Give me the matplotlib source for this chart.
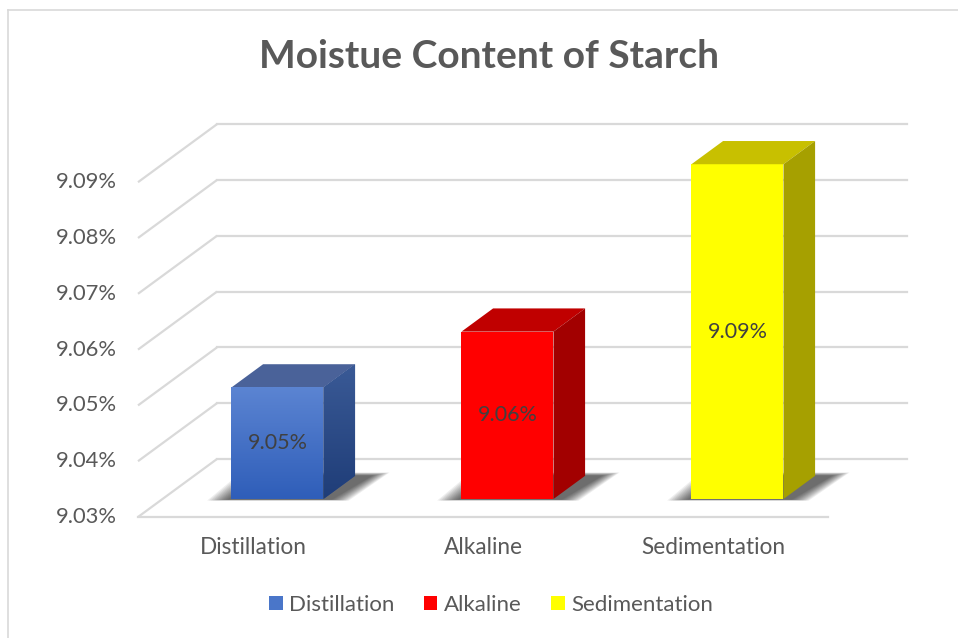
import numpy as np
import matplotlib
matplotlib.use("Agg")
import matplotlib.pyplot as plt
from matplotlib.patches import Polygon, Patch
from matplotlib.colors import LinearSegmentedColormap

# data
categories = ["Distillation", "Alkaline", "Sedimentation"]
values = [9.05, 9.06, 9.09]
ticks = [9.03, 9.04, 9.05, 9.06, 9.07, 9.08, 9.09]
title = "Moistue Content of Starch"

front_colors = ["#4a76c9", "#ff0000", "#ffff00"]
top_colors = ["#4a6299", "#c00000", "#c8c000"]
side_colors = ["#2d4c8a", "#a20000", "#a6a000"]

W, H = 958, 638
FLOOR = ticks[0]
PX_X = 230.0      # pixels per category
PX_Y = 5580.0     # pixels per value unit
X0, Y0 = 138, 517  # pixel position of (0, FLOOR)

DX = 79 / PX_X    # depth offset of the back wall
DY = 58 / PX_Y
F1, F2 = 0.31, 0.71  # bar front / back depth fraction
BW = 0.4

plt.rcParams["font.family"] = ["Lato", "DejaVu Sans"]
fig = plt.figure(figsize=(W / 100, H / 100), dpi=100)
ax = fig.add_axes([0, 0, 1, 1])
ax.set_xlim(-X0 / PX_X, (W - X0) / PX_X)
ax.set_ylim(FLOOR - (H - Y0) / PX_Y, FLOOR + Y0 / PX_Y)
ax.axis("off")

grid_c = "#d9d9d9"
n = len(categories)
for t in ticks:
    ax.plot([0, DX], [t, t + DY], color=grid_c, lw=1.6, zorder=1, solid_capstyle="butt")
    ax.plot([DX, n + DX], [t + DY, t + DY], color=grid_c, lw=1.6, zorder=1)
    ax.text(-0.09, t, f"{t:.2f}%", ha="right", va="center", fontsize=15.8, color="#595959")
ax.plot([0, n], [FLOOR, FLOOR], color=grid_c, lw=1.6, zorder=1)

# border of chart area
fig.add_artist(plt.Line2D([7.5 / W, 1], [1 - 9.5 / H] * 2, color="#d9d9d9", lw=1.2))
fig.add_artist(plt.Line2D([7.5 / W] * 2, [0, 1 - 9.5 / H], color="#d9d9d9", lw=1.2))

blue_front = LinearSegmentedColormap.from_list("bf", ["#2f5eb9", "#5b84d2"])
blue_side = LinearSegmentedColormap.from_list("bs", ["#1f3d78", "#3a5a96"])

for i, (cat, v) in enumerate(zip(categories, values)):
    c = i + 0.5
    xl, xr = c - BW / 2, c + BW / 2
    b1, b2 = FLOOR + F1 * DY, FLOOR + F2 * DY

    # soft shadow on the floor
    for k in range(12):
        g = 0.16 * (1 - k / 12.0)
        dy = 0.0006 * (1 - k / 12.0)
        sh = [(xl + F1 * DX - 0.01 - g * 0.6, b1 - 0.0001 - dy * 0.3),
              (xr + F1 * DX + 0.03 + g * 0.5, b1 - 0.0001 - dy * 0.3),
              (xr + F2 * DX + 0.07 + g * 0.5, b2 + dy),
              (xl + F2 * DX - g * 0.6, b2 + dy)]
        ax.add_patch(Polygon(sh, closed=True, facecolor="#000000", alpha=0.065,
                             edgecolor="none", zorder=2))

    bars = ax.bar(c + F1 * DX, v - FLOOR, bottom=b1, width=BW,
                  color=front_colors[i], edgecolor="none", zorder=4)
    top = Polygon([(xl + F1 * DX, v + F1 * DY), (xr + F1 * DX, v + F1 * DY),
                   (xr + F2 * DX, v + F2 * DY), (xl + F2 * DX, v + F2 * DY)],
                  closed=True, facecolor=top_colors[i], edgecolor="none", zorder=4)
    side = Polygon([(xr + F1 * DX, b1), (xr + F2 * DX, b2),
                    (xr + F2 * DX, v + F2 * DY), (xr + F1 * DX, v + F1 * DY)],
                   closed=True, facecolor=side_colors[i], edgecolor="none", zorder=4)
    ax.add_patch(top)
    ax.add_patch(side)

    if i == 0:
        grad = np.linspace(0, 1, 100).reshape(-1, 1)
        im = ax.imshow(grad, cmap=blue_front, origin="lower", aspect="auto",
                       extent=[xl + F1 * DX, xr + F1 * DX, b1, v + F1 * DY], zorder=5)
        im.set_clip_path(bars[0])
        im2 = ax.imshow(grad, cmap=blue_side, origin="lower", aspect="auto",
                        extent=[xr + F1 * DX, xr + F2 * DX, b1, v + F2 * DY], zorder=5)
        im2.set_clip_path(side)

    ax.text(c + F1 * DX, (b1 + v + F1 * DY) / 2, f"{v:.2f}%", ha="center", va="center",
            fontsize=15.5, color="#404040", zorder=6)
    ax.text(c, FLOOR - 31 / PX_Y, cat, ha="center", va="center", fontsize=16.3, color="#595959")

ax.set_xlim(-X0 / PX_X, (W - X0) / PX_X)
ax.set_ylim(FLOOR - (H - Y0) / PX_Y, FLOOR + Y0 / PX_Y)

fig.text(489 / W, 1 - 57 / H, title, ha="center", va="center", fontsize=28,
         fontweight="bold", color="#595959")

handles = [Patch(facecolor=front_colors[i], edgecolor="none") for i in range(n)]
fig.legend(handles, categories, loc="center", bbox_to_anchor=(491 / W, 1 - 605 / H),
           ncol=3, frameon=False, fontsize=16, handlelength=0.62, handleheight=0.62,
           handletextpad=0.3, columnspacing=1.3, labelcolor="#595959")

fig.savefig("out.png", dpi=100)
